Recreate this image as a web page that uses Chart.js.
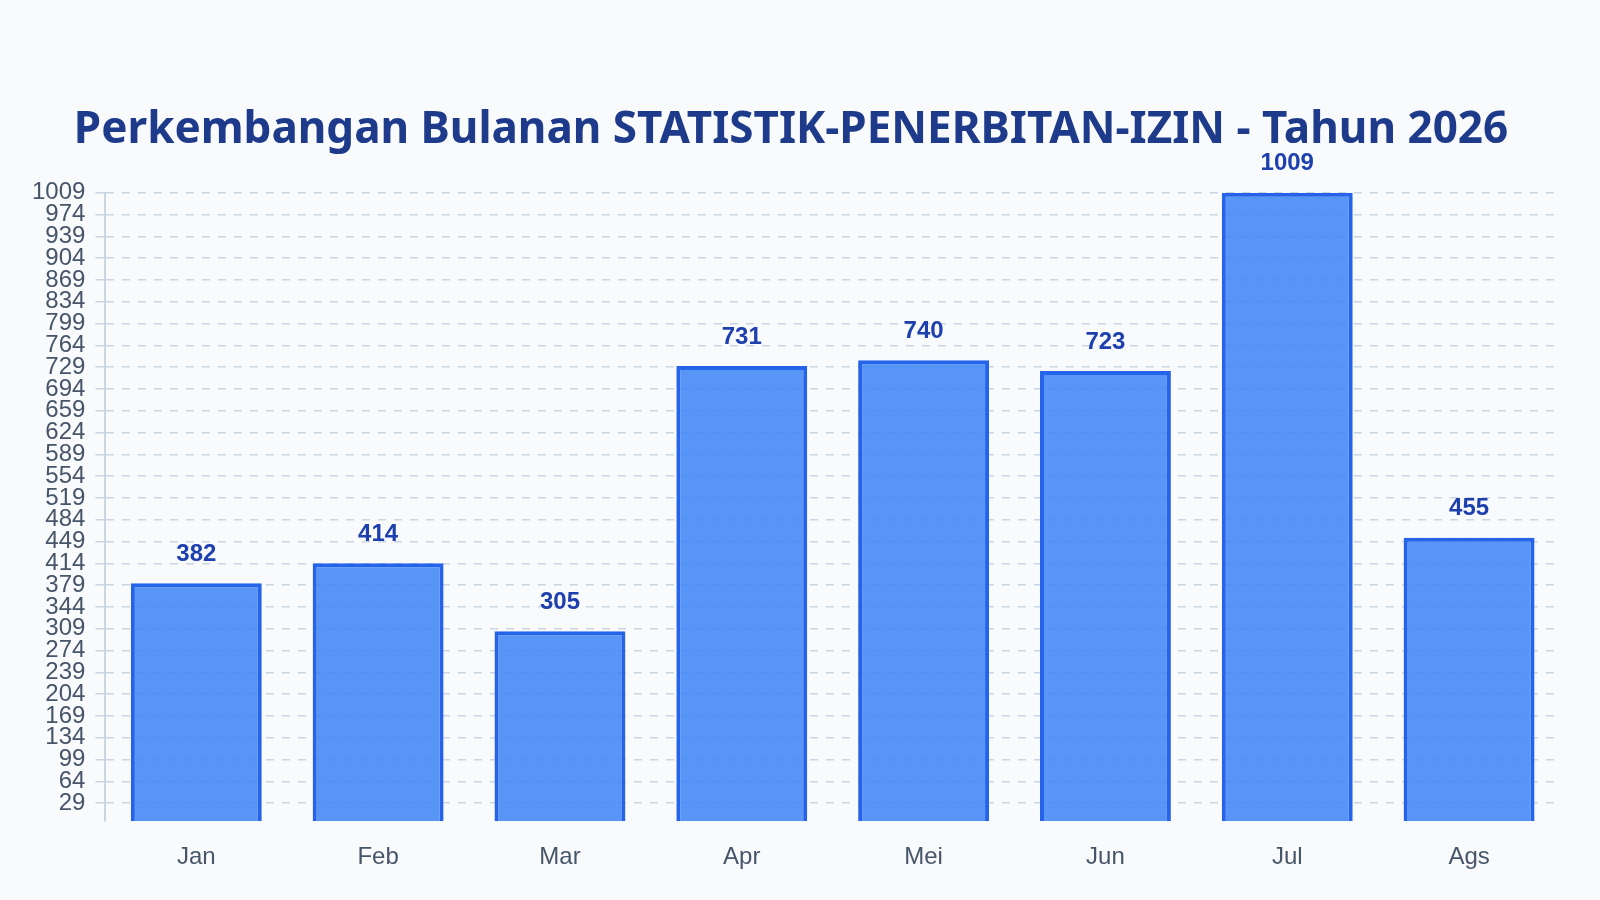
<!DOCTYPE html>
<html>
<head>
<meta charset="utf-8">
<script src="https://cdn.jsdelivr.net/npm/chart.js@4.4.1/dist/chart.umd.min.js"></script>
<style>
  html, body { margin: 0; padding: 0; background: #f8fafc; }
  #wrap { width: 1600px; height: 900px; }
</style>
</head>
<body>
<div id="wrap"><canvas id="izinChart"></canvas></div>
<script>
// data
var months = ["Jan", "Feb", "Mar", "Apr", "Mei", "Jun", "Jul", "Ags"];
var izinValues = [382, 414, 305, 731, 740, 723, 1009, 455];
var yTicks = [29, 64, 99, 134, 169, 204, 239, 274, 309, 344, 379, 414, 449, 484, 519,
	554, 589, 624, 659, 694, 729, 764, 799, 834, 869, 904, 939, 974, 1009];
var chartTitle = "Perkembangan Bulanan STATISTIK-PENERBITAN-IZIN - Tahun 2026";

// simple value labels above bars
var valueLabels = {
	id: 'valueLabels',
	afterDatasetsDraw: function(chart) {
		var ctx = chart.ctx;
		var meta = chart.getDatasetMeta(0);
		ctx.save();
		ctx.font = "bold 24px 'Liberation Sans', Arial, sans-serif";
		ctx.fillStyle = "#1e40af";
		ctx.textAlign = "center";
		ctx.textBaseline = "bottom";
		meta.data.forEach(function(bar, i) {
			ctx.fillText(String(izinValues[i]), bar.x, bar.y - 17);
		});
		ctx.restore();
	}
};

var bgPlugin = {
	id: 'bgFill',
	beforeDraw: function(chart) {
		var ctx = chart.ctx;
		ctx.save();
		ctx.fillStyle = "#f8fafc";
		ctx.fillRect(0, 0, chart.width, chart.height);
		ctx.restore();
	}
};

var ctx = document.getElementById("izinChart").getContext("2d");
var izinChart = new Chart(ctx, {
	type: 'bar',
	data: {
		labels: months,
		datasets: [{
			data: izinValues,
			backgroundColor: "rgba(59,130,246,0.85)",
			borderColor: "#2563eb",
			borderWidth: 4,
			borderSkipped: 'bottom'
		}]
	},
	options: {
		responsive: true,
		maintainAspectRatio: false,
		animation: false,
		layout: { padding: { top: 104, right: 40, left: 22, bottom: 6 } },
		plugins: {
			legend: { display: false },
			tooltip: { enabled: false },
			title: {
				display: true,
				text: chartTitle,
				color: "#1e3a8a",
				font: { family: "'Noto Sans', sans-serif", size: 44, weight: 'bold' },
				padding: { top: 0, bottom: 36 }
			}
		},
		scales: {
			x: {
				grid: { display: false, drawTicks: false },
				border: { display: false },
				ticks: {
					color: "#475569",
					padding: 22,
					font: { family: "'Liberation Sans', Arial, sans-serif", size: 24 }
				}
			},
			y: {
				min: 0,
				max: 1009,
				afterBuildTicks: function(axis) {
					axis.ticks = yTicks.map(function(v) { return { value: v }; });
				},
				grid: {
					color: "#cbd5e1",
					lineWidth: 1.5,
					tickLength: 10
				},
				border: { display: true, color: "#cbd5e1", width: 2, dash: [8, 8] },
				ticks: {
					color: "#475569",
					padding: 10,
					autoSkip: false,
					font: { family: "'Liberation Sans', Arial, sans-serif", size: 24 },
					callback: function(v) { return String(v); }
				}
			}
		}
	},
	plugins: [bgPlugin, valueLabels]
});
</script>
</body>
</html>
